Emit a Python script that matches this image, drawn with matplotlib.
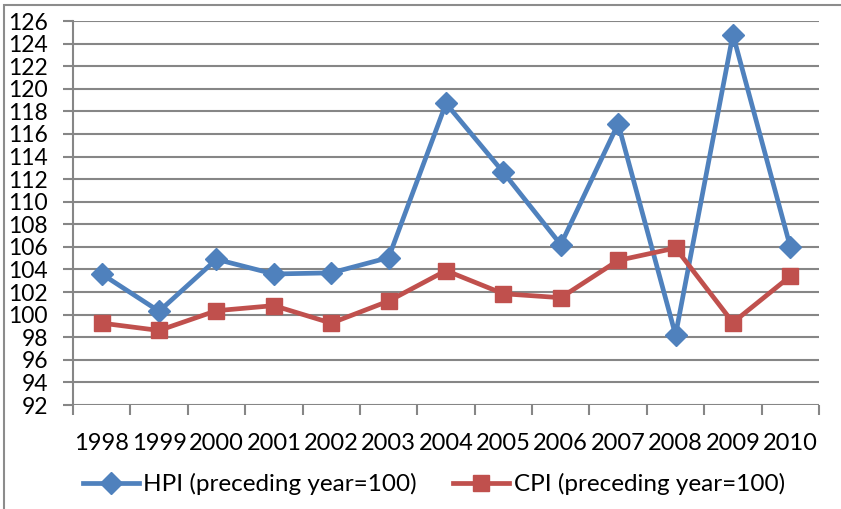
import matplotlib.pyplot as plt
from matplotlib.patches import Rectangle

plt.rcParams['font.family'] = ['Lato', 'DejaVu Sans']

years = ['1998', '1999', '2000', '2001', '2002', '2003', '2004',
         '2005', '2006', '2007', '2008', '2009', '2010']
hpi = [103.6, 100.3, 104.9, 103.6, 103.7, 105.05, 118.7,
       112.6, 106.2, 116.9, 98.2, 124.8, 106.0]
cpi = [99.25, 98.6, 100.35, 100.8, 99.25, 101.2, 103.9,
       101.85, 101.5, 104.8, 105.9, 99.3, 103.4]
yticks = list(range(92, 127, 2))

blue = '#4F81BD'
red = '#C0504D'
grey = '#868686'

fig = plt.figure(figsize=(8.41, 5.09), dpi=100)
ax = fig.add_axes([73 / 841, 1 - 405 / 509, 746 / 841, 384 / 509])

# outer chart border
fig.patches.append(Rectangle((4 / 841, -0.1), 1.2, 1 - 5 / 509 + 0.1,
                             transform=fig.transFigure, fill=False,
                             edgecolor='#8c8c8c', lw=1.5))

x = list(range(len(years)))
ax.plot(x, hpi, color=blue, lw=3.4, marker='D', ms=11,
        label='HPI (preceding year=100)', zorder=3)
ax.plot(x, cpi, color=red, lw=3.4, marker='s', ms=11.5,
        label='CPI (preceding year=100)', zorder=3)

ax.set_ylim(92, 126)
ax.set_xlim(-0.5, len(years) - 0.5)
ax.set_yticks(yticks)
ax.set_xticks(x)
ax.set_xticklabels(years)
ax.set_xticks([i - 0.5 for i in range(len(years) + 1)], minor=True)
ax.tick_params(axis='x', which='major', length=0, pad=20, labelsize=17)
ax.tick_params(axis='x', which='minor', length=7, width=1.5, color=grey)
ax.tick_params(axis='y', length=7, width=1.5, color=grey, labelsize=16.5, pad=11)
ax.yaxis.grid(True, color=grey, lw=1.5)
ax.set_axisbelow(True)
for s in ['top', 'right', 'bottom']:
    ax.spines[s].set_visible(False)
ax.spines['left'].set_color(grey)
ax.spines['left'].set_linewidth(1.5)

ax.legend(loc='center', bbox_to_anchor=(434 / 841, 1 - 484 / 509),
          bbox_transform=fig.transFigure, ncol=2, frameon=False,
          fontsize=17.5, handlelength=2.3, handletextpad=0.2,
          columnspacing=1.5)

fig.savefig('out.png', dpi=100)
